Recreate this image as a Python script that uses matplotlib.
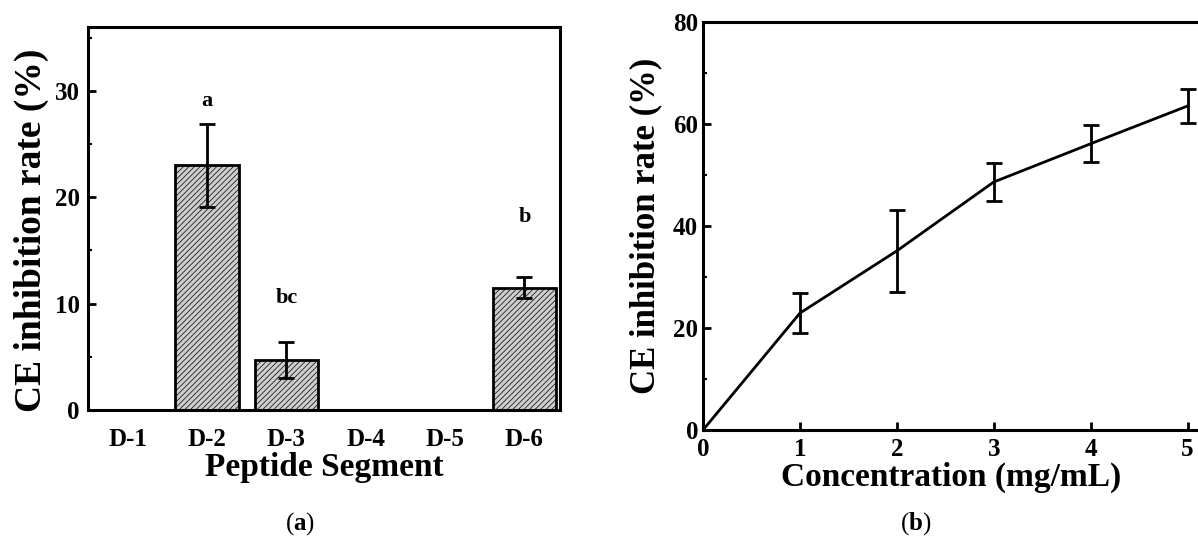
import numpy as np
import matplotlib.pyplot as plt
from matplotlib.ticker import MultipleLocator

plt.rcParams["font.family"] = ["Liberation Serif", "DejaVu Serif"]
plt.rcParams["font.weight"] = "bold"
plt.rcParams["mathtext.fontset"] = "custom"
plt.rcParams["mathtext.bf"] = "Liberation Serif:bold"
plt.rcParams["hatch.color"] = "#7a7a7a"
plt.rcParams["hatch.linewidth"] = 0.5

# panel (a)
segments = ["D-1", "D-2", "D-3", "D-4", "D-5", "D-6"]
seg_rate = [0, 23.0, 4.7, 0, 0, 11.5]
seg_err = [0, 3.9, 1.7, 0, 0, 1.0]
seg_letters = {1: ("a", 29.0), 2: ("bc", 10.5), 5: ("b", 18.1)}

# panel (b)
conc = [0, 1, 2, 3, 4, 5]
conc_rate = [0, 22.9, 35.1, 48.6, 56.1, 63.5]
conc_err = [0, 3.9, 8.0, 3.7, 3.6, 3.3]

fig = plt.figure(figsize=(11.98, 5.45), dpi=100)

ax1 = fig.add_axes([0.0735, 0.2477, 0.394, 0.703])
x = np.arange(1, len(segments) + 1)
vis = [i for i, v in enumerate(seg_rate) if v > 0]
ax1.bar(x[vis], [seg_rate[i] for i in vis], width=0.8, color="#cdcdcd",
        edgecolor="black", linewidth=2, hatch="//////")
ax1.errorbar(x[vis], [seg_rate[i] for i in vis], yerr=[seg_err[i] for i in vis],
             fmt="none", ecolor="black", elinewidth=2, capsize=6, capthick=2)
for i, (lab, y) in seg_letters.items():
    ax1.text(x[i], y, lab, ha="center", va="center", fontsize=16, fontweight="bold")
ax1.set_xlim(0.5, 6.45)
ax1.set_ylim(0, 36)
ax1.set_xticks(x)
ax1.set_xticklabels(segments)
ax1.yaxis.set_major_locator(MultipleLocator(10))
ax1.yaxis.set_minor_locator(MultipleLocator(5))
ax1.tick_params(axis="y", which="major", direction="in", length=6, width=2, labelsize=18, pad=6)
ax1.tick_params(axis="y", which="minor", direction="in", length=3, width=1.5)
ax1.tick_params(axis="x", length=0, labelsize=18, pad=13)
ax1.set_xlabel("Peptide Segment", fontsize=24, fontweight="bold", labelpad=1)
ax1.set_ylabel("CE inhibition rate (%)", fontsize=27, fontweight="bold")
ax1.yaxis.set_label_coords(-0.083, 0.47)
for s in ax1.spines.values():
    s.set_linewidth(2.2)

ax2 = fig.add_axes([0.5868, 0.211, 0.415, 0.749])
ax2.errorbar(conc, conc_rate, yerr=conc_err, color="black", linewidth=2,
             elinewidth=2, capsize=6, capthick=2)
ax2.set_xlim(0, 5.13)
ax2.set_ylim(0, 80)
ax2.xaxis.set_major_locator(MultipleLocator(1))
ax2.yaxis.set_major_locator(MultipleLocator(20))
ax2.yaxis.set_minor_locator(MultipleLocator(10))
ax2.tick_params(axis="both", which="major", direction="in", length=6, width=2, labelsize=18)
ax2.tick_params(axis="y", which="minor", direction="in", length=3, width=1.5)
ax2.tick_params(axis="x", pad=6)
ax2.set_xlabel("Concentration (mg/mL)", fontsize=24, fontweight="bold", labelpad=0)
ax2.set_ylabel("CE inhibition rate (%)", fontsize=25, fontweight="bold", labelpad=8)
for s in ax2.spines.values():
    s.set_linewidth(2.2)

fig.text(0.2505, 0.04, r"($\mathbf{a}$)", ha="center", va="center", fontsize=18, fontweight="normal")
fig.text(0.764, 0.04, r"($\mathbf{b}$)", ha="center", va="center", fontsize=18, fontweight="normal")

fig.savefig("out.png", dpi=100)
